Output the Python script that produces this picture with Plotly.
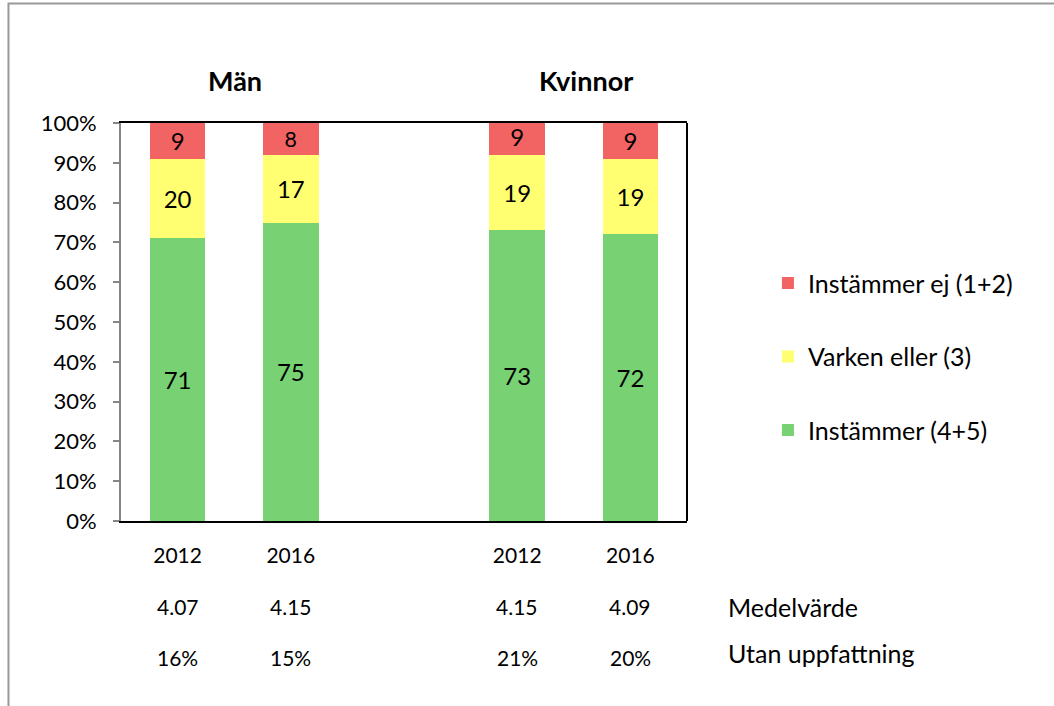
import plotly.graph_objects as go

# ---- data ----
positions = [0, 1, 3, 4]
years = ["2012", "2016", "2012", "2016"]
groups = ["Män", "Kvinnor"]
instammer = [71, 75, 73, 72]          # Instämmer (4+5)
varken = [20, 17, 19, 19]             # Varken eller (3)
instammer_ej = [9, 8, 9, 9]           # Instämmer ej (1+2)
medelvarde = ["4.07", "4.15", "4.15", "4.09"]
utan_uppfattning = ["16%", "15%", "21%", "20%"]
yticks = [0, 10, 20, 30, 40, 50, 60, 70, 80, 90, 100]

FONT = "Lato"
series = [
    ("Instämmer (4+5)", instammer, "#78D173", 3),
    ("Varken eller (3)", varken, "#FFFF71", 2),
    ("Instämmer ej (1+2)", instammer_ej, "#F26363", 1),
]

fig = go.Figure()
for name, vals, col, rank in series:
    fig.add_trace(go.Bar(
        x=positions, y=vals, name=name, marker_color=col, marker_line_width=0,
        width=0.49, text=[str(v) for v in vals], textposition="inside",
        insidetextanchor="middle", textangle=0,
        textfont=dict(family=FONT, size=24, color="black"),
        legendgroup=f"g{rank}", legendrank=rank, cliponaxis=True,
    ))

fig.update_layout(
    barmode="stack",
    width=1054, height=706,
    margin=dict(l=121, r=367, t=123, b=185),
    paper_bgcolor="white", plot_bgcolor="white",
    font=dict(family=FONT, size=21, color="black"),
    showlegend=True,
    legend=dict(x=1.143, y=0.655, xanchor="left", yanchor="top",
                traceorder="grouped", tracegroupgap=38,
                font=dict(family=FONT, size=25, color="black"),
                bgcolor="rgba(0,0,0,0)"),
    uniformtext=dict(mode=False),
)

fig.update_xaxes(
    range=[-0.5, 4.5], tickvals=positions, ticktext=years,
    showline=True, linecolor="black", linewidth=2, mirror=True,
    ticks="", showgrid=False, zeroline=False, ticklabelstandoff=15,
    tickfont=dict(family=FONT, size=21, color="black"),
)
fig.update_yaxes(
    range=[0, 100], tickvals=yticks, ticktext=[f"{v}%" for v in yticks],
    showline=True, linecolor="#868686", linewidth=2, mirror=False,
    ticks="outside", ticklen=6, tickwidth=2, tickcolor="#868686",
    showgrid=False, zeroline=False, ticklabelstandoff=12,
    tickfont=dict(family=FONT, size=22, color="black"),
)

# right border of plot area
fig.add_shape(type="line", xref="paper", yref="paper", x0=1, x1=1, y0=0, y1=1,
              line=dict(color="black", width=2))
# outer chart frame
fig.add_shape(type="rect", xref="paper", yref="paper",
              x0=-0.1988, x1=1.70, y0=-0.6, y1=1.3003,
              line=dict(color="#999999", width=2), layer="below")

# group headers
for label, xc in zip(groups, [0.51, 3.61]):
    fig.add_annotation(x=xc, y=1.108, xref="x", yref="paper", text=f"<b>{label}</b>",
                       showarrow=False, xanchor="center", yanchor="middle",
                       font=dict(family=FONT, size=27, color="black"))

# extra rows
for p, m, u in zip(positions, medelvarde, utan_uppfattning):
    fig.add_annotation(x=p, y=-0.216, xref="x", yref="paper", text=m, showarrow=False,
                       xanchor="center", yanchor="middle",
                       font=dict(family=FONT, size=21, color="black"))
    fig.add_annotation(x=p, y=-0.342, xref="x", yref="paper", text=u, showarrow=False,
                       xanchor="center", yanchor="middle",
                       font=dict(family=FONT, size=21, color="black"))
fig.add_annotation(x=1.069, y=-0.216, xref="paper", yref="paper", text="Medelvärde",
                   xanchor="left", yanchor="middle", showarrow=False,
                   font=dict(family=FONT, size=25, color="black"))
fig.add_annotation(x=1.069, y=-0.332, xref="paper", yref="paper", text="Utan uppfattning",
                   xanchor="left", yanchor="middle", showarrow=False,
                   font=dict(family=FONT, size=25, color="black"))

fig.write_html("out.html", config={"displayModeBar": False},
               post_script="document.body.style.margin='0';")
